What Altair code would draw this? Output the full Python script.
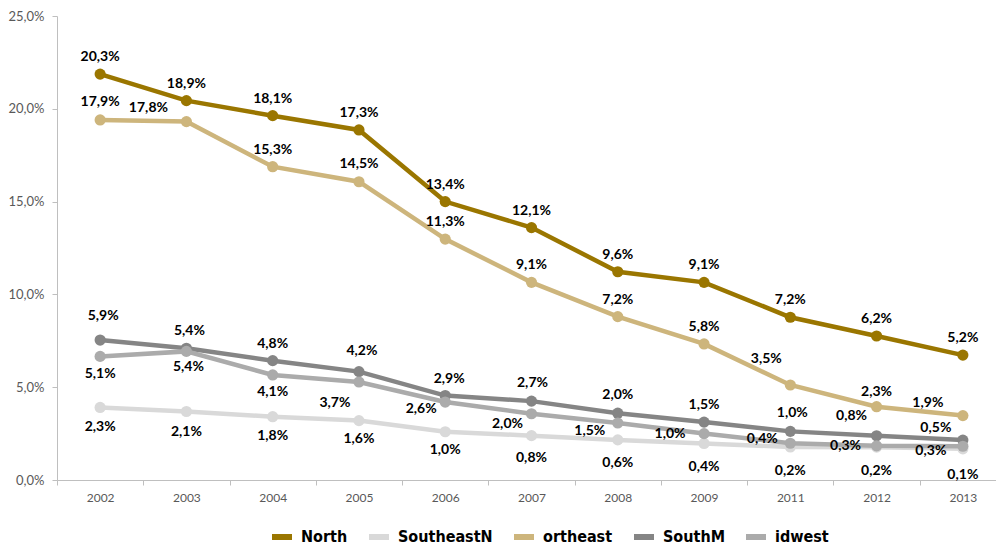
import altair as alt
import pandas as pd

years = ["2002", "2003", "2004", "2005", "2006", "2007", "2008", "2009", "2011", "2012", "2013"]

series_names = ["North", "SoutheastN", "ortheast", "SouthM", "idwest"]
series_colors = ["#9A7600", "#D9D9D9", "#CDB57C", "#858585", "#ABABAB"]

# plotted positions
north_y = [21.87, 20.44, 19.63, 18.86, 15.0, 13.6, 11.22, 10.65, 8.77, 7.76, 6.73]
southeast_y = [3.91, 3.69, 3.41, 3.2, 2.6, 2.39, 2.16, 1.97, 1.78, 1.77, 1.68]
northeast_y = [19.4, 19.31, 16.88, 16.07, 12.98, 10.65, 8.8, 7.33, 5.12, 3.95, 3.47]
south_y = [7.54, 7.1, 6.43, 5.84, 4.55, 4.25, 3.6, 3.12, 2.62, 2.38, 2.15]
midwest_y = [6.66, 6.93, 5.66, 5.28, 4.2, 3.57, 3.07, 2.5, 1.98, 1.84, 1.82]

# data labels as printed
north_lbl = ["20,3%", "18,9%", "18,1%", "17,3%", "13,4%", "12,1%", "9,6%", "9,1%", "7,2%", "6,2%", "5,2%"]
southeast_lbl = ["2,3%", "2,1%", "1,8%", "1,6%", "1,0%", "0,8%", "0,6%", "0,4%", "0,2%", "0,2%", "0,1%"]
northeast_lbl = ["17,9%", "17,8%", "15,3%", "14,5%", "11,3%", "9,1%", "7,2%", "5,8%", "3,5%", "2,3%", "1,9%"]
south_lbl = ["5,9%", "5,4%", "4,8%", "4,2%", "2,9%", "2,7%", "2,0%", "1,5%", "1,0%", "0,8%", "0,5%"]
midwest_lbl = ["5,1%", "5,4%", "4,1%", "3,7%", "2,6%", "2,0%", "1,5%", "1,0%", "0,4%", "0,3%", "0,3%"]

# label placement offsets (pixels, style only)
north_dx = [0] * 11
north_dy = [-17] * 11
southeast_dx = [0] * 11
southeast_dy = [20, 20, 19, 18, 18, 22, 23, 24, 24, 24, 26]
northeast_dx = [0, -38, 0, 0, 0, 0, 0, 0, -24, 0, -35]
northeast_dy = [-18, -14, -17, -18, -17, -17, -17, -17, -26, -15, -13]
south_dx = [3, 3, 0, 3, 4, 1, 0, 0, 2, -25, -27]
south_dy = [-24, -17, -17, -21, -17, -18, -18, -17, -18, -20, -12]
midwest_dx = [0, 2, 0, -24, -24, -24, -28, -34, -28, -31, -32]
midwest_dy = [18, 16, 17, 21, 7, 10, 8, 0, -4, 0, 5]

all_y = [north_y, southeast_y, northeast_y, south_y, midwest_y]
all_lbl = [north_lbl, southeast_lbl, northeast_lbl, south_lbl, midwest_lbl]
all_dx = [north_dx, southeast_dx, northeast_dx, south_dx, midwest_dx]
all_dy = [north_dy, southeast_dy, northeast_dy, south_dy, midwest_dy]

rows = []
for name, ys, lbls, dxs, dys in zip(series_names, all_y, all_lbl, all_dx, all_dy):
    for i, yr in enumerate(years):
        rows.append(dict(year=yr, region=name, value=ys[i], label=lbls[i], dx=dxs[i], dy=dys[i]))
df = pd.DataFrame(rows)

axis_grey = "#BFBFBF"
label_grey = "#595959"

x = alt.X(
    "year:N",
    sort=years,
    scale=alt.Scale(type="band", domain=years, paddingInner=0, paddingOuter=0, range=[0, 949]),
    axis=alt.Axis(
        title=None, labelAngle=0, tickBand="extent", domainColor=axis_grey, tickColor=axis_grey,
        tickSize=5, labelColor=label_grey, labelFont="Lato", labelFontSize=12, labelPadding=7,
    ),
)
y = alt.Y(
    "value:Q",
    scale=alt.Scale(domain=[0, 25], nice=False),
    axis=alt.Axis(
        title=None, grid=False, values=[0, 5, 10, 15, 20, 25],
        labelExpr="replace(format(datum.value, '.1f'), '.', ',') + '%'",
        domainColor=axis_grey, tickColor=axis_grey, tickSize=5, labelPadding=8,
        labelColor=label_grey, labelFont="Lato", labelFontSize=13,
    ),
)
legend = alt.Legend(
    title=None, orient="none", legendX=212, legendY=508, direction="horizontal",
    symbolType="stroke", symbolStrokeWidth=6, symbolSize=400,
    labelFont="DejaVu Sans Condensed", labelFontWeight="bold",
    labelFontSize=16, labelColor="black", columnPadding=9, symbolOffset=0, labelOffset=6,
)
color = alt.Color("region:N", scale=alt.Scale(domain=series_names, range=series_colors), legend=legend)

layers = []
for name in series_names:
    sub = alt.Chart(df).transform_filter(alt.datum.region == name)
    layers.append(sub.mark_line(strokeWidth=4.5).encode(x=x, y=y, color=color))
    layers.append(sub.mark_circle(size=125, opacity=1).encode(x=x, y=y, color=color))

text = alt.Chart(df).mark_text(
    font="Lato", fontWeight="bold", fontSize=14, color="black", align="center", baseline="middle",
    dx=alt.ExprRef("datum.dx"), dy=alt.ExprRef("datum.dy"),
).encode(
    x=x, y=y,
    text="label:N",
)
layers.append(text)

chart = alt.layer(*layers).properties(
    width=939, height=464,
    autosize=alt.AutoSizeParams(type="none"),
    padding={"left": 49, "top": 8, "right": 0, "bottom": 66},
).configure_view(stroke=None)

chart.save("out.html", embed_options={"renderer": "svg", "actions": False})
